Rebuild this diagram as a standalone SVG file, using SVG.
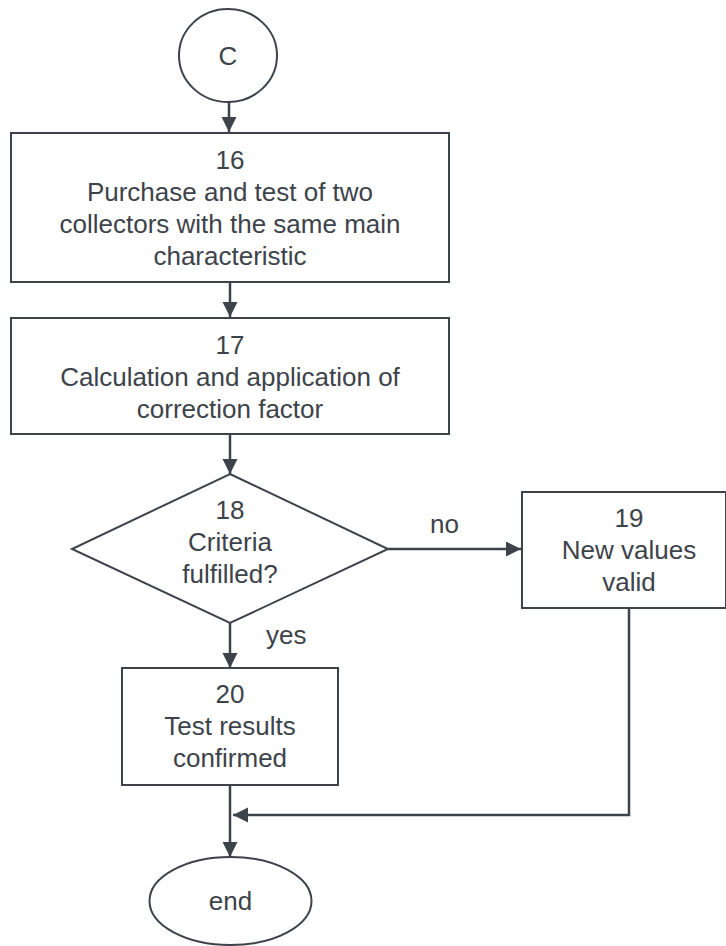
<svg xmlns="http://www.w3.org/2000/svg" width="726" height="946" viewBox="0 0 726 946">
<style>
.shape{fill:#ffffff;stroke:#3d434a;stroke-width:2}
.conn{fill:none;stroke:#3d434a;stroke-width:2.5}
text{font-family:"Liberation Sans",Arial,sans-serif;font-size:26px;fill:#3d434a;text-anchor:middle}
.lbl{text-anchor:start}
</style>
<defs>
<marker id="ah" markerWidth="16" markerHeight="16" refX="15" refY="7.5" orient="auto" markerUnits="userSpaceOnUse">
<path d="M0,0 L15,7.5 L0,15 z" fill="#3d434a"/>
</marker>
</defs>
<rect width="726" height="946" fill="#ffffff"/>
<g id="connectors">
<path class="conn" d="M229,102 V132" marker-end="url(#ah)"/>
<path class="conn" d="M230,282 V317" marker-end="url(#ah)"/>
<path class="conn" d="M230,434 V474" marker-end="url(#ah)"/>
<path class="conn" d="M388,549 H521" marker-end="url(#ah)"/>
<path class="conn" d="M230,623 V668" marker-end="url(#ah)"/>
<path class="conn" d="M230,785 V857" marker-end="url(#ah)"/>
<path class="conn" d="M629,608 V815 H233" marker-end="url(#ah)"/>
<text class="lbl" x="430" y="533">no</text>
<text class="lbl" x="266" y="644">yes</text>
</g>
<g id="nodeC">
<ellipse class="shape" cx="228" cy="55.5" rx="49" ry="46.5"/>
<text x="228" y="65">C</text>
</g>
<g id="node16">
<rect class="shape" x="11" y="133" width="438" height="149"/>
<text x="230" y="169">16</text>
<text x="230" y="201">Purchase and test of two</text>
<text x="230" y="233">collectors with the same main</text>
<text x="230" y="265">characteristic</text>
</g>
<g id="node17">
<rect class="shape" x="11" y="318" width="438" height="116"/>
<text x="230" y="354">17</text>
<text x="230" y="386">Calculation and application of</text>
<text x="230" y="418">correction factor</text>
</g>
<g id="node18">
<polygon class="shape" points="230,474 388,549 230,623 72,549"/>
<text x="230" y="519">18</text>
<text x="230" y="551">Criteria</text>
<text x="230" y="583">fulfilled?</text>
</g>
<g id="node19">
<rect class="shape" x="522" y="492" width="204" height="116"/>
<text x="629" y="527">19</text>
<text x="629" y="559">New values</text>
<text x="629" y="591">valid</text>
</g>
<g id="node20">
<rect class="shape" x="122" y="668" width="216" height="117"/>
<text x="230" y="703">20</text>
<text x="230" y="735">Test results</text>
<text x="230" y="767">confirmed</text>
</g>
<g id="nodeEnd">
<ellipse class="shape" cx="230.5" cy="901" rx="81" ry="44"/>
<text x="230.5" y="910">end</text>
</g>
</svg>
